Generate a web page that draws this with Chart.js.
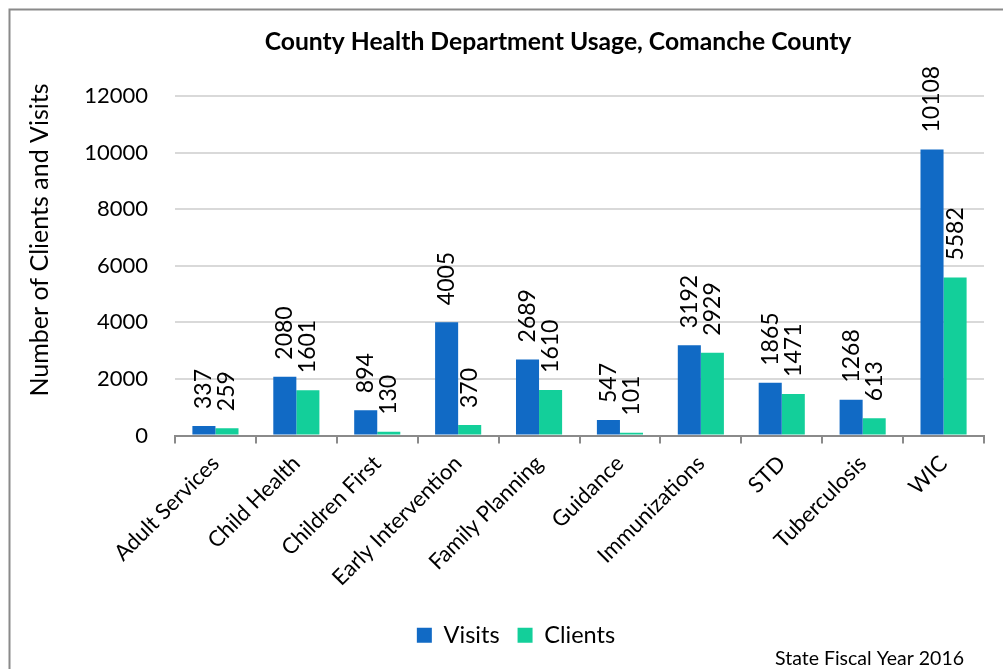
<!DOCTYPE html>
<html>
<head>
<meta charset="utf-8">
<script src="https://cdn.jsdelivr.net/npm/chart.js@4/dist/chart.umd.min.js"></script>
<style>
  html, body { margin: 0; padding: 0; background: #fff; }
  #wrap { position: relative; width: 1003px; height: 669px; }
  canvas { display: block; }
</style>
</head>
<body>
<div id="wrap"><canvas id="c" width="1003" height="669"></canvas></div>
<script>
// Service programs and their yearly totals
const categories = ['Adult Services', 'Child Health', 'Children First', 'Early Intervention',
  'Family Planning', 'Guidance', 'Immunizations', 'STD', 'Tuberculosis', 'WIC'];
const visits  = [337, 2080, 894, 4005, 2689, 547, 3192, 1865, 1268, 10108];
const clients = [259, 1601, 130, 370, 1610, 101, 2929, 1471, 613, 5582];
const yTicks  = [0, 2000, 4000, 6000, 8000, 10000, 12000];

const FONT = 'Lato, "Open Sans", sans-serif';
const TITLE = 'County Health Department Usage, Comanche County';
const Y_TITLE = 'Number of Clients and Visits';
const FOOTNOTE = 'State Fiscal Year 2016';

// Outer frame, heading, axis title and footnote
const framePlugin = {
  id: 'frame',
  beforeDraw(chart) {
    const ctx = chart.ctx;
    ctx.save();
    ctx.fillStyle = '#fff';
    ctx.fillRect(0, 0, chart.width, chart.height);
    ctx.strokeStyle = '#8a8a8a';
    ctx.lineWidth = 2;
    ctx.beginPath();
    ctx.moveTo(9.5, chart.height + 5);
    ctx.lineTo(9.5, 9.5);
    ctx.lineTo(chart.width + 5, 9.5);
    ctx.stroke();
    ctx.restore();
  },
  afterDraw(chart) {
    const ctx = chart.ctx;
    ctx.save();
    ctx.fillStyle = '#000';
    ctx.textBaseline = 'middle';
    ctx.textAlign = 'center';
    ctx.font = 'bold 24.7px ' + FONT;
    ctx.fillText(TITLE, 558, 42);

    ctx.save();
    ctx.translate(40, 240);
    ctx.rotate(-Math.PI / 2);
    ctx.font = '25px ' + FONT;
    ctx.fillText(Y_TITLE, 0, 0);
    ctx.restore();

    ctx.textAlign = 'right';
    ctx.font = '19.5px ' + FONT;
    ctx.fillText(FOOTNOTE, 964, 659);
    ctx.restore();
  }
};

// Vertical value labels above each bar
const valueLabels = {
  id: 'valueLabels',
  afterDatasetsDraw(chart) {
    const ctx = chart.ctx;
    ctx.save();
    ctx.fillStyle = '#000';
    ctx.font = '23px ' + FONT;
    ctx.textAlign = 'left';
    ctx.textBaseline = 'middle';
    chart.data.datasets.forEach((ds, di) => {
      chart.getDatasetMeta(di).data.forEach((bar, i) => {
        ctx.save();
        ctx.translate(bar.x, bar.y - 17);
        ctx.rotate(-Math.PI / 2);
        ctx.fillText(String(ds.data[i]), 0, 0);
        ctx.restore();
      });
    });
    ctx.restore();
  }
};

new Chart(document.getElementById('c'), {
  type: 'bar',
  data: {
    labels: categories,
    datasets: [
      { label: 'Visits',  data: visits,  backgroundColor: '#116ac5', borderWidth: 0 },
      { label: 'Clients', data: clients, backgroundColor: '#13cf9a', borderWidth: 0 }
    ]
  },
  options: {
    responsive: false,
    animation: false,
    devicePixelRatio: 1,
    layout: { padding: { top: 96, left: 48, right: 19, bottom: 12 } },
    datasets: { bar: { categoryPercentage: 0.57, barPercentage: 1.0 } },
    plugins: {
      title: { display: false },
      tooltip: { enabled: false },
      legend: {
        position: 'bottom',
        labels: {
          font: { family: FONT, size: 23.5 },
          color: '#000',
          boxWidth: 15,
          boxHeight: 15,
          padding: 18
        }
      }
    },
    scales: {
      x: {
        grid: {
          display: true,
          drawOnChartArea: false,
          drawTicks: true,
          tickLength: 8,
          color: '#8a8a8a',
          lineWidth: 2
        },
        border: { display: true, color: '#8a8a8a', width: 2 },
        ticks: {
          color: '#000',
          font: { family: FONT, size: 22 },
          maxRotation: 45,
          minRotation: 45,
          autoSkip: false,
          padding: 7
        },
        afterFit(scale) { scale.height = 170; }
      },
      y: {
        min: 0,
        max: 12000,
        afterBuildTicks(scale) { scale.ticks = yTicks.map(v => ({ value: v })); },
        grid: { color: '#d9d9d9', lineWidth: 2, drawTicks: false },
        border: { display: false },
        ticks: {
          color: '#000',
          font: { family: FONT, size: 22 },
          padding: 27,
          callback: v => String(v)
        },
        afterFit(scale) { scale.width = 127; }
      }
    }
  },
  plugins: [framePlugin, valueLabels]
});
</script>
</body>
</html>
